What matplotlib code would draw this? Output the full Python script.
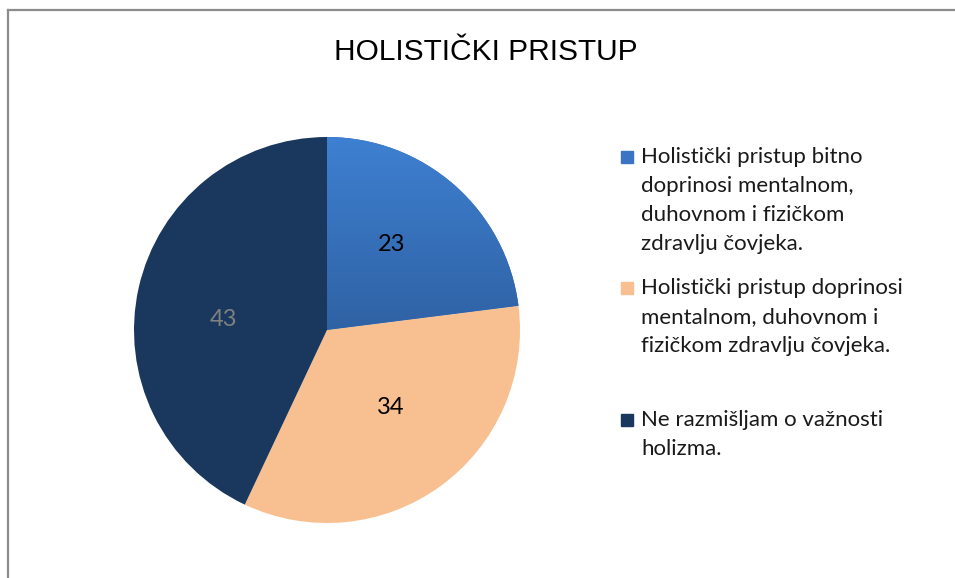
import numpy as np
import matplotlib
matplotlib.use("Agg")
import matplotlib.pyplot as plt
from matplotlib.lines import Line2D
from matplotlib.patches import Rectangle
from matplotlib.colors import LinearSegmentedColormap

titS = "HOLISTIČKI PRISTUP"
Vals = [23, 34, 43]
Labs = ["Holistički pristup bitno\ndoprinosi mentalnom,\nduhovnom i fizičkom\nzdravlju čovjeka.",
        "Holistički pristup doprinosi\nmentalnom, duhovnom i\nfizičkom zdravlju čovjeka.",
        "Ne razmišljam o važnosti\nholizma."]
Cols = ["#3870bb", "#f8c090", "#1a375e"]
txtCols = ["black", "black", "#808080"]

W, H = 955, 578
fig = plt.figure(figsize=(W/100, H/100), dpi=100)

# border (top + left only visible)
fig.add_artist(Line2D([8/W, 1.0], [1-10/H, 1-10/H], color="#8c8c8c", lw=1.6))
fig.add_artist(Line2D([8/W, 8/W], [1-10/H, 0.0], color="#8c8c8c", lw=1.6))

cx, cy, R = 327, 330, 193
ax = fig.add_axes([(cx-R)/W, (H-cy-R)/H, 2*R/W, 2*R/H])
wedges, texts = ax.pie(Vals, colors=Cols, startangle=90, counterclock=False, radius=1.0)
ax.set_xlim(-1, 1)
ax.set_ylim(-1, 1)
ax.set_aspect("equal")
ax.axis("off")

# gradient fill for first slice
cm = LinearSegmentedColormap.from_list("bl", ["#2f62a4", "#3e80d1"])
grad = np.linspace(0, 1, 256).reshape(-1, 1)
im = ax.imshow(grad, extent=[-1, 1, 0, 1], origin="lower", cmap=cm, aspect="auto", zorder=1.5)
im.set_clip_path(wedges[0])

# value labels (excel-like placement)
dAng = [4.0, 3.4, 6.6]
dR = [0.555, 0.52, 0.54]
for n, w in enumerate(wedges):
    a = np.deg2rad(0.5*(w.theta1+w.theta2) + dAng[n])
    ax.text(dR[n]*np.cos(a), dR[n]*np.sin(a), "%d" % Vals[n], ha="center", va="center",
            fontsize=17, family="Lato", color=txtCols[n], zorder=3)

fig.text(486/W, 1-52/H, titS, ha="center", va="center", fontsize=21.5, family="Liberation Sans")

# legend
legY = [157, 288, 420]
lh = 29
for n in range(len(Vals)):
    y0 = legY[n]
    fig.add_artist(Rectangle((621/W, 1-(y0+6)/H), 12/W, 12/H, color=Cols[n] if n else "#3a74c2",
                             transform=fig.transFigure))
    for i, ln in enumerate(Labs[n].split("\n")):
        fig.text(641/W, 1-(y0+i*lh)/H, ln, ha="left", va="center", fontsize=16, family="Lato",
                 color="#1a1a1a")

plt.savefig("out.png", dpi=100)
